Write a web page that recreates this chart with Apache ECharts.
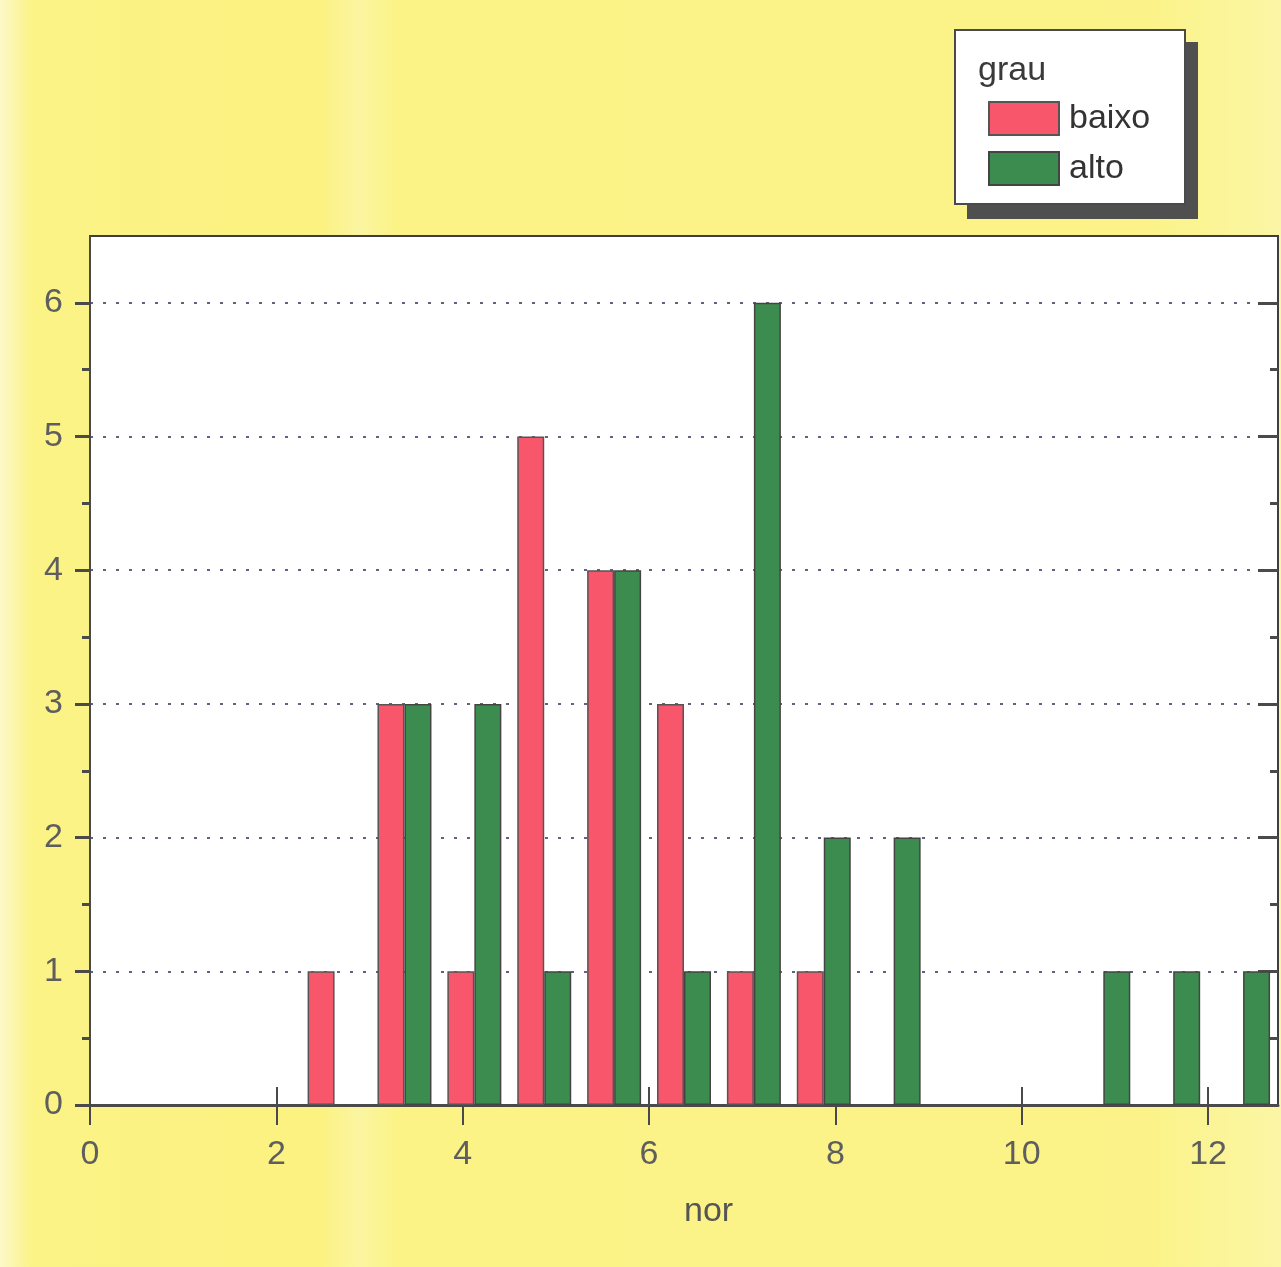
<!DOCTYPE html>
<html>
<head>
<meta charset="utf-8">
<script src="https://cdn.jsdelivr.net/npm/echarts@6/dist/echarts.min.js"></script>
<style>
html,body{margin:0;padding:0;}
#c{width:1281px;height:1267px;}
</style>
</head>
<body>
<div id="c"></div>
<script>
// histogram bins (midpoints) of "nor", counts per "grau"
var binCenters = [2.625, 3.375, 4.125, 4.875, 5.625, 6.375, 7.125, 7.875, 8.625, 9.375, 10.125, 10.875, 11.625, 12.375];
var baixo = [1, 3, 1, 5, 4, 3, 1, 1, 0, 0, 0, 0, 0, 0];
var alto  = [0, 3, 3, 1, 4, 1, 6, 2, 2, 0, 0, 1, 1, 1];
var xTicks = [0, 2, 4, 6, 8, 10, 12];
var yTicks = [0, 1, 2, 3, 4, 5, 6];
var yMinorTicks = [0.5, 1.5, 2.5, 3.5, 4.5, 5.5];
var seriesNames = ['baixo', 'alto'];
var legendTitle = 'grau';
var xName = 'nor';

function pairs(vals) {
  var out = [];
  for (var i = 0; i < binCenters.length; i++) {
    if (vals[i] > 0) out.push([binCenters[i], vals[i]]);
  }
  return out;
}

var FONT = '"Liberation Sans", Arial, sans-serif';
var labelColor = '#5e5e5e';
var axisColor = '#4a4a4a';

var chart = echarts.init(document.getElementById('c'));
var gridBox = {left: 90, top: 236, right: 3, bottom: 162};

function yAx(pos, tickVals, len, inside, main) {
  return {
    type: 'value', position: pos, min: 0, max: 6.5,
    axisLine: {show: main, lineStyle: {color: axisColor, width: 2}},
    axisTick: {show: true, customValues: tickVals, length: len, inside: inside, lineStyle: {color: axisColor, width: 3}},
    axisLabel: main && pos === 'left' ? {show: true, customValues: yTicks, margin: 27, color: labelColor, fontSize: 34, fontFamily: FONT} : {show: false},
    splitLine: {show: false}
  };
}

chart.setOption({
  animation: false,
  backgroundColor: {
    type: 'linear', x: 0, y: 0, x2: 1, y2: 0,
    colorStops: [
      {offset: 0, color: '#fcf8c8'},
      {offset: 0.025, color: '#fbf386'},
      {offset: 0.25, color: '#fbf281'},
      {offset: 0.28, color: '#fbf5a2'},
      {offset: 0.31, color: '#fbf386'},
      {offset: 0.9, color: '#fbf389'},
      {offset: 1, color: '#fbf6a6'}
    ]
  },
  grid: Object.assign({show: true, backgroundColor: '#ffffff', borderColor: '#3e3e3e', borderWidth: 2}, gridBox),
  xAxis: [
    {
      type: 'value', min: 0, max: 12.75, position: 'bottom',
      axisLine: {show: true, onZero: false, lineStyle: {color: axisColor, width: 3}},
      axisTick: {show: true, customValues: xTicks, length: 20, lineStyle: {color: axisColor, width: 2}},
      axisLabel: {customValues: xTicks, margin: 33, color: labelColor, fontSize: 34, fontFamily: FONT},
      splitLine: {show: false}
    },
    {
      type: 'value', min: 0, max: 12.75, position: 'bottom',
      axisLine: {show: false},
      axisTick: {show: true, customValues: xTicks, inside: true, length: 18, lineStyle: {color: axisColor, width: 2}},
      axisLabel: {show: false},
      splitLine: {show: false}
    }
  ],
  yAxis: [
    (function () {
      var a = yAx('left', yTicks, 15, false, true);
      a.splitLine = {show: true, showMinLine: false, showMaxLine: true, lineStyle: {color: '#5f6280', width: 2, type: [3, 10]}};
      return a;
    })(),
    yAx('left', yMinorTicks, 8, false, false),
    yAx('right', yTicks, 20, true, false),
    yAx('right', yMinorTicks, 8, true, false)
  ],
  legend: {
    orient: 'vertical', left: 988, top: 101, padding: 0,
    icon: 'rect',
    itemWidth: 70, itemHeight: 33, itemGap: 15,
    data: seriesNames,
    textStyle: {fontSize: 34, color: '#333', fontFamily: FONT, padding: [0, 0, 0, 5]}
  },
  graphic: [
    {type: 'rect', z: -1, shape: {x: 967, y: 42, width: 231, height: 177}, style: {fill: '#4f4f4f'}, silent: true},
    {type: 'rect', z: 0, shape: {x: 955, y: 30, width: 230, height: 174}, style: {fill: '#ffffff', stroke: '#4a4a4a', lineWidth: 2}, silent: true},
    {type: 'text', z: 1, left: 978, top: 54, style: {text: legendTitle, fontSize: 34, fill: '#3a3a3a', fontFamily: FONT}},
    {type: 'text', z: 1, left: 684, top: 1195, style: {text: xName, fontSize: 34, fill: '#555', fontFamily: FONT}}
  ],
  series: [
    {
      name: seriesNames[0], type: 'bar', xAxisIndex: 0, yAxisIndex: 0,
      barWidth: 27, barGap: '0%',
      itemStyle: {color: '#f7566b', borderColor: '#555555', borderWidth: 1.5},
      data: pairs(baixo)
    },
    {
      name: seriesNames[1], type: 'bar', xAxisIndex: 0, yAxisIndex: 0,
      barWidth: 27, barGap: '0%',
      itemStyle: {color: '#3d8c4f', borderColor: '#444444', borderWidth: 1.5},
      data: pairs(alto)
    }
  ]
});
</script>
</body>
</html>
